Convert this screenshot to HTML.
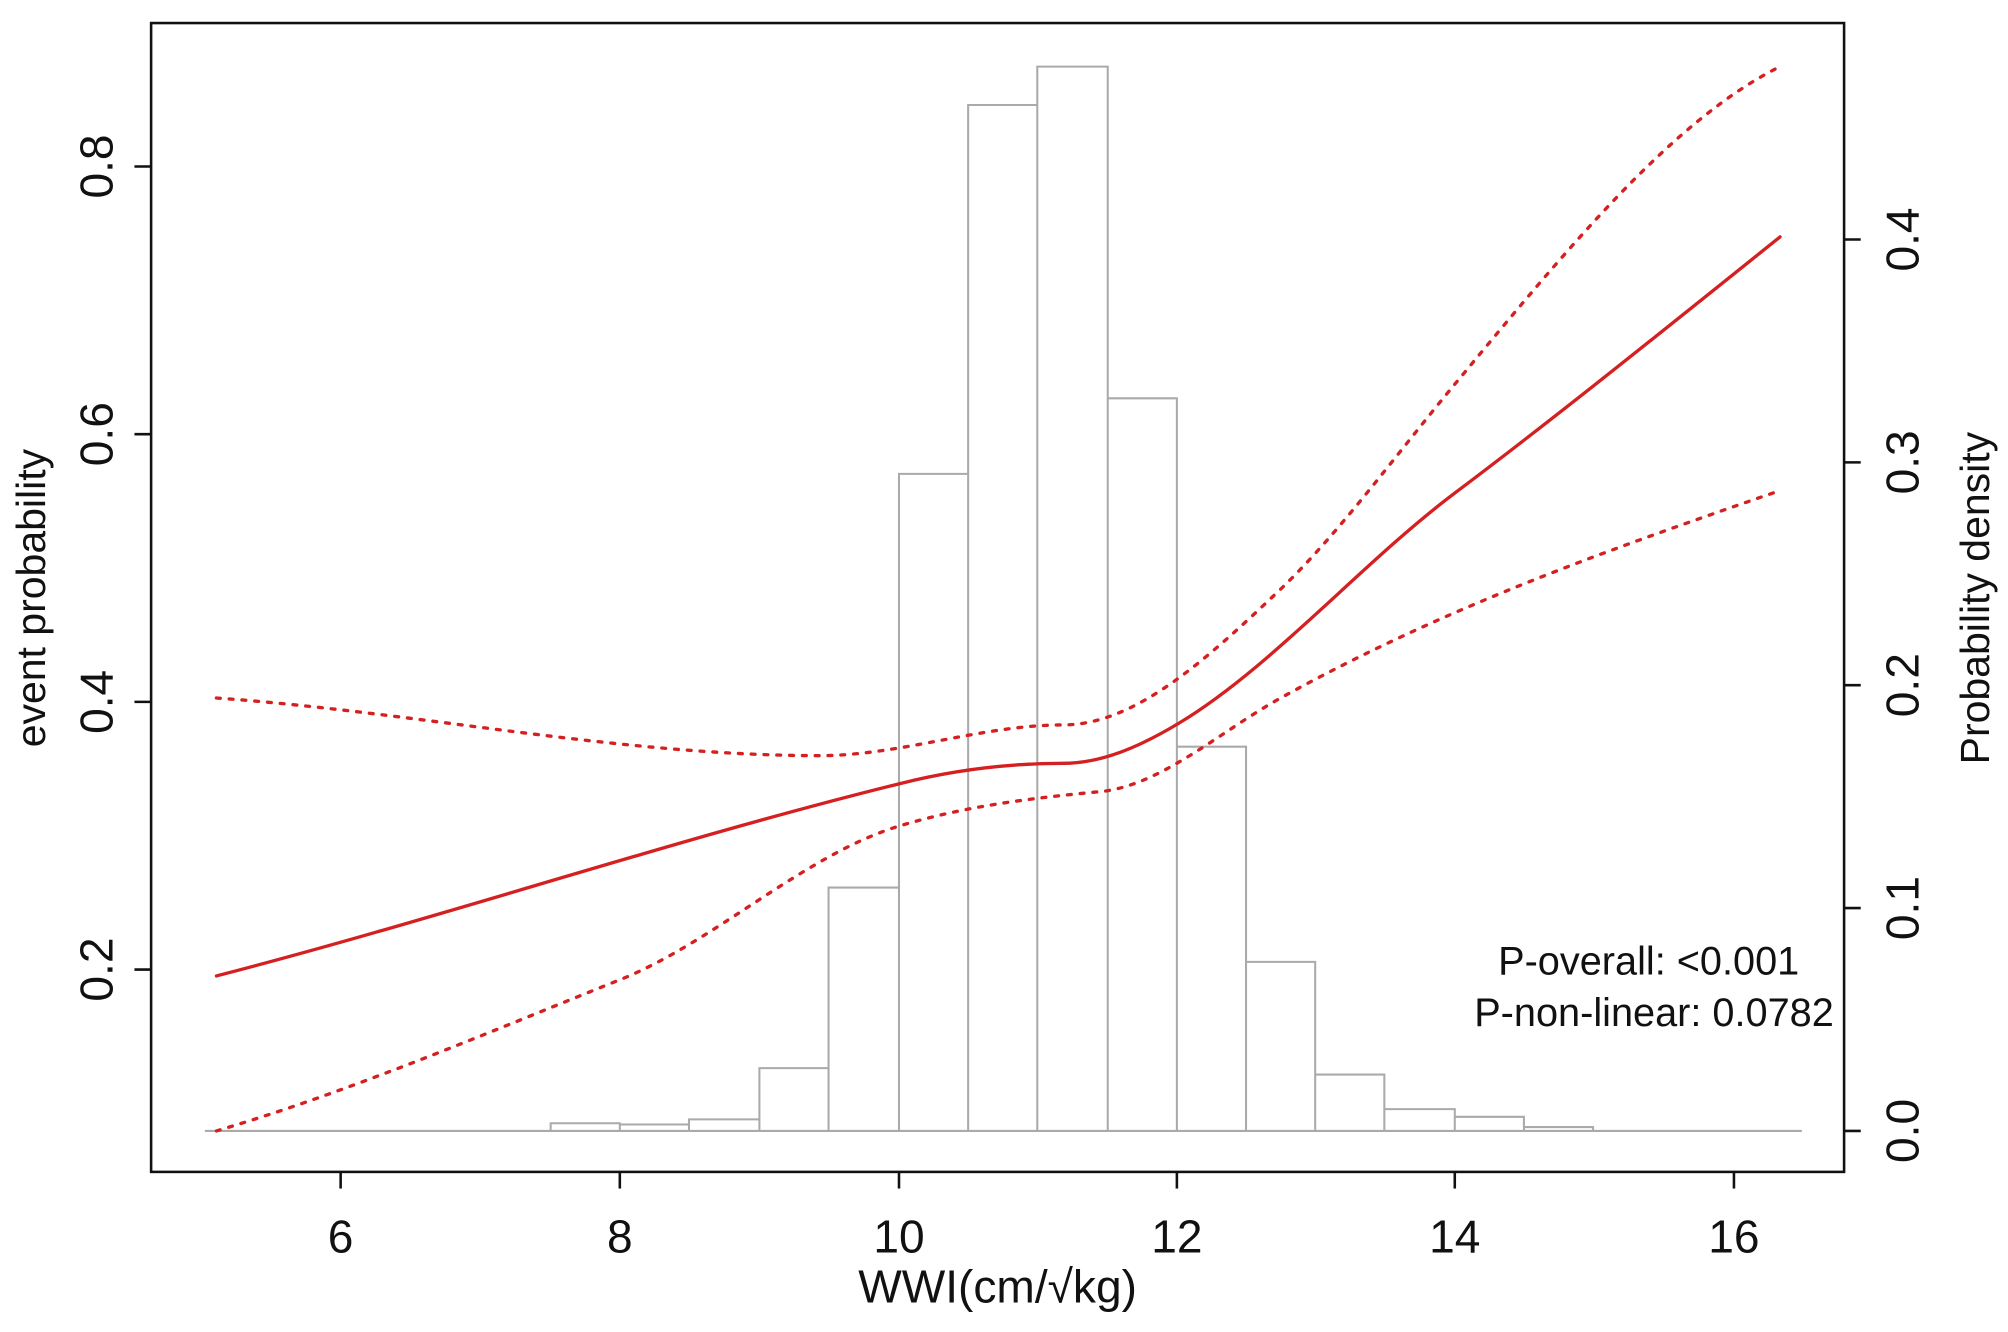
<!DOCTYPE html>
<html><head><meta charset="utf-8"><style>html,body{margin:0;padding:0;background:#fff}svg{display:block}text{font-family:"Liberation Sans",Arial,sans-serif;fill:#111}</style></head>
<body>
<svg width="2008" height="1332" viewBox="0 0 1568 1040" preserveAspectRatio="none" xmlns="http://www.w3.org/2000/svg">
<rect width="1568" height="1040" fill="#fff"/>
<g fill="none" stroke="#aaa" stroke-width="1.6">
<line x1="160" y1="883" x2="1407" y2="883"/>
<path d="M430 883V877H484V883 M484 883V878H538V883 M538 883V874H593V883 M593 883V834H647V883 M647 883V693H702V883 M702 883V370H756V883 M756 883V82H810V883 M810 883V52H865V883 M865 883V311H919V883 M919 883V583H973V883 M973 883V751H1027V883 M1027 883V839H1081V883 M1081 883V866H1136V883 M1136 883V872H1190V883 M1190 883V880H1244V883"/>
</g>
<g fill="none" stroke="#d42020" stroke-linecap="round" stroke-linejoin="round">
<path stroke-width="2.6" d="M169 762 C347 716 524 656 702 612 C745 601 787 596 830 596 C860 596 890 583 920 565 C992 522 1064 439 1136 385 C1221 321 1305 253 1390 185"/>
<path stroke-width="2.6" stroke-dasharray="3,7" d="M169 545 C326 556 483 590 640 590 C703 590 767 566 830 566 C887 566 943 514 1000 460 C1045 417 1091 354 1136 300 C1221 198 1305 94 1390 52"/>
<path stroke-width="2.6" stroke-dasharray="3,7" d="M169 883 C274 852 379 807 484 765 C557 736 629 667 702 645 C755 629 807 623 860 618 C907 613 953 571 1000 545 C1130 473 1260 428 1390 383"/>
</g>
<rect x="118" y="18" width="1322" height="897" fill="none" stroke="#111" stroke-width="2"/>
<g stroke="#111" stroke-width="2">
<line x1="266" y1="915" x2="266" y2="928"/><line x1="484" y1="915" x2="484" y2="928"/><line x1="702" y1="915" x2="702" y2="928"/><line x1="919" y1="915" x2="919" y2="928"/><line x1="1136" y1="915" x2="1136" y2="928"/><line x1="1354" y1="915" x2="1354" y2="928"/>
<line x1="118" y1="757" x2="105" y2="757"/><line x1="118" y1="548" x2="105" y2="548"/><line x1="118" y1="339" x2="105" y2="339"/><line x1="118" y1="130" x2="105" y2="130"/>
<line x1="1440" y1="883" x2="1453" y2="883"/><line x1="1440" y1="709" x2="1453" y2="709"/><line x1="1440" y1="535" x2="1453" y2="535"/><line x1="1440" y1="361" x2="1453" y2="361"/><line x1="1440" y1="187" x2="1453" y2="187"/>
</g>
<g font-size="36" text-anchor="middle">
<text x="266" y="978">6</text><text x="484" y="978">8</text><text x="702" y="978">10</text><text x="919" y="978">12</text><text x="1136" y="978">14</text><text x="1354" y="978">16</text>
<text transform="translate(88,757) rotate(-90)">0.2</text>
<text transform="translate(88,548) rotate(-90)">0.4</text>
<text transform="translate(88,339) rotate(-90)">0.6</text>
<text transform="translate(88,130) rotate(-90)">0.8</text>
<text transform="translate(1498,883) rotate(-90)">0.0</text>
<text transform="translate(1498,709) rotate(-90)">0.1</text>
<text transform="translate(1498,535) rotate(-90)">0.2</text>
<text transform="translate(1498,361) rotate(-90)">0.3</text>
<text transform="translate(1498,187) rotate(-90)">0.4</text>
<text x="779" y="1017">WWI(cm/√kg)</text>
<text transform="translate(35,467) rotate(-90)" font-size="32">event probability</text>
<text transform="translate(1553,467) rotate(-90)" font-size="32">Probability density</text>
</g>
<g font-size="31" text-anchor="end">
<text x="1405" y="761">P-overall: &lt;0.001</text>
<text x="1432" y="801">P-non-linear: 0.0782</text>
</g>
</svg>
</body></html>
